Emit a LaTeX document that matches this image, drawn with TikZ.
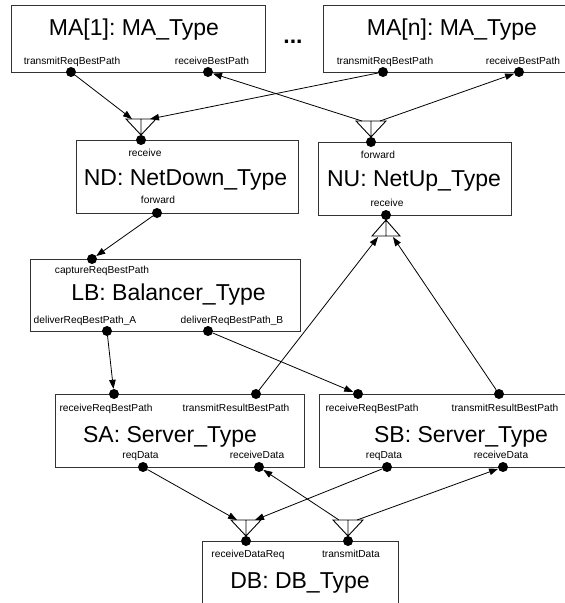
\documentclass[tikz,border=0pt]{standalone}
\usepackage{fontspec}
\setmainfont{Liberation Sans}
\usetikzlibrary{arrows.meta}
\frenchspacing
\begin{document}
\begin{tikzpicture}[x=1pt,y=-1pt,
  box/.style={draw=black!80, line width=0.9pt, fill=white, rectangle, inner sep=0pt, anchor=north west},
  port/.style={circle, fill=black, inner sep=0pt, minimum size=10pt},
  title/.style={anchor=base, font=\fontsize{23}{27}\selectfont, inner sep=0pt},
  plabel/.style={anchor=base, font=\fontsize{10.2}{12}\selectfont, inner sep=0pt},
  conn/.style={draw=black, line width=0.8pt, -{Triangle[length=9pt,width=6.5pt]}},
  fandown/.pic={
    \draw[line width=0.9pt, black] (-15,-16) -- (15,-16) -- (0,0) -- cycle (0,-16) -- (0,0);
    \coordinate (-l) at (-9,-16);
    \coordinate (-r) at (9,-16);
  },
  fanup/.pic={
    \draw[line width=0.9pt, black] (-14,16) -- (14,16) -- (0,0) -- cycle (0,16) -- (0,0);
    \coordinate (-l) at (-8,17);
    \coordinate (-r) at (7,17);
  }]
\useasboundingbox (0,0) rectangle (565,603);
\clip (0,0) rectangle (565,603);

% component boxes
\node[box, minimum width=254pt, minimum height=67pt] (ma1) at (11,5) {};
\node[box, minimum width=250pt, minimum height=67pt] (man) at (323,5) {};
\node[box, minimum width=222pt, minimum height=73pt] (nd) at (76,140) {};
\node[box, minimum width=193pt, minimum height=73pt] (nu) at (318,142) {};
\node[box, minimum width=270pt, minimum height=72pt] (lb) at (30,259) {};
\node[box, minimum width=249pt, minimum height=73pt] (sa) at (55,394) {};
\node[box, minimum width=255pt, minimum height=73pt] (sb) at (319,394) {};
\node[box, minimum width=196pt, minimum height=70pt] (db) at (202,541) {};

% titles
\node[title] (ma1t) at (134,35) {MA[1]: MA\_Type};
\node[title] (mant) at (452,35) {MA[n]: MA\_Type};
\node[title] (dots) at (293,43) {\textbf{...}};
\node[title] (ndt) at (185.5,185) {ND: NetDown\_Type};
\node[title] (nut) at (414,186) {NU: NetUp\_Type};
\node[title] (lbt) at (168.5,300) {LB: Balancer\_Type};
\node[title] (sat) at (170,442) {SA: Server\_Type};
\node[title] (sbt) at (461,442) {SB: Server\_Type};
\node[title] (dbt) at (300,588) {DB: DB\_Type};

% port labels
\node[plabel] (l1) at (72,64) {transmitReqBestPath};
\node[plabel] (l2) at (212,64) {receiveBestPath};
\node[plabel] (l3) at (385,64) {transmitReqBestPath};
\node[plabel] (l4) at (523,64) {receiveBestPath};
\node[plabel] (l5) at (145,156) {receive};
\node[plabel] (l6) at (158,203) {forward};
\node[plabel] (l7) at (378,158) {forward};
\node[plabel] (l8) at (387,206) {receive};
\node[plabel] (l9) at (102,273) {captureReqBestPath};
\node[plabel] (l10) at (85,323) {deliverReqBestPath\_A};
\node[plabel] (l11) at (232,323) {deliverReqBestPath\_B};
\node[plabel] (l12) at (106,411) {receiveReqBestPath};
\node[plabel] (l13) at (236,411) {transmitResultBestPath};
\node[plabel] (l14) at (140.5,458) {reqData};
\node[plabel] (l15) at (257,458) {receiveData};
\node[plabel] (l16) at (372,411) {receiveReqBestPath};
\node[plabel] (l17) at (505,411) {transmitResultBestPath};
\node[plabel] (l18) at (384,458) {reqData};
\node[plabel] (l19) at (501,458) {receiveData};
\node[plabel] (l20) at (248,557) {receiveDataReq};
\node[plabel] (l21) at (351,557) {transmitData};

% ports
\node[port] (ma1tr) at (71,72) {};
\node[port] (ma1rb) at (208,72) {};
\node[port] (mantr) at (383,72) {};
\node[port] (manrb) at (519,72) {};
\node[port] (ndrc) at (141,140) {};
\node[port] (ndfw) at (157,213) {};
\node[port] (nufw) at (371,142) {};
\node[port] (nurc) at (386,215) {};
\node[port] (lbcap) at (92,259) {};
\node[port] (lba) at (107,331) {};
\node[port] (lbb) at (208,331) {};
\node[port] (sarr) at (114,394) {};
\node[port] (satr) at (256,394) {};
\node[port] (saqd) at (143,467) {};
\node[port] (sard) at (259,467) {};
\node[port] (sbrr) at (358,394) {};
\node[port] (sbtr) at (499,394) {};
\node[port] (sbqd) at (387,467) {};
\node[port] (sbrd) at (503,467) {};
\node[port] (dbrq) at (246,541) {};
\node[port] (dbtd) at (348,541) {};

% fan-in / fan-out markers
\pic (ndin) at (141,135) {fandown};
\pic (nuout) at (371,137) {fandown};
\pic (nuin) at (386,220) {fanup};
\pic (dbin) at (246,536) {fandown};
\pic (dbout) at (348,536) {fandown};

% connectors
\draw[conn] (ma1tr) -- (ndin-l);
\draw[conn] (mantr) -- (ndin-r);
\draw[conn] (nuout-l) -- (ma1rb);
\draw[conn] (nuout-r) -- (manrb);
\draw[conn] (ndfw) -- (lbcap);
\draw[conn] (lba) -- (sarr);
\draw[conn] (lbb) -- (sbrr);
\draw[conn] (satr) -- (nuin-l);
\draw[conn] (sbtr) -- (nuin-r);
\draw[conn] (saqd) -- (dbin-l);
\draw[conn] (sbqd) -- (dbin-r);
\draw[conn] (dbout-l) -- (sard);
\draw[conn] (dbout-r) -- (sbrd);
\end{tikzpicture}
\end{document}
